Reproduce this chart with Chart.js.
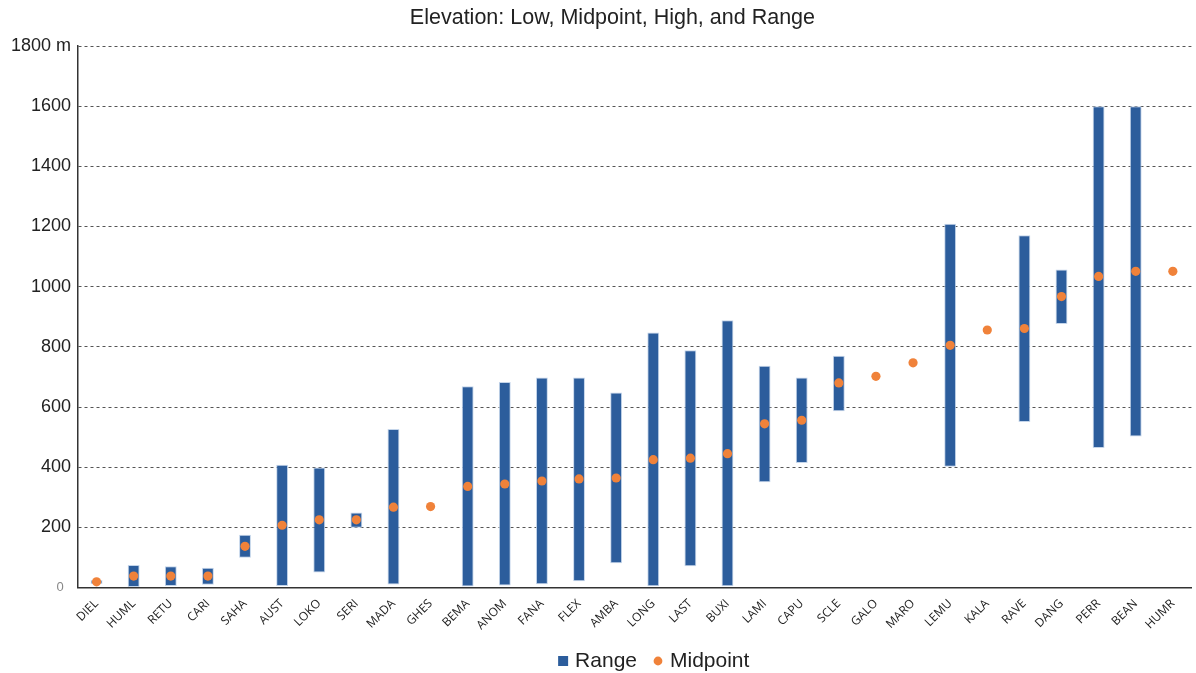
<!DOCTYPE html>
<html>
<head>
<meta charset="utf-8">
<script src="https://cdn.jsdelivr.net/npm/chart.js@4/dist/chart.umd.min.js"></script>
<style>
  html, body { margin: 0; padding: 0; background: #ffffff; }
  #wrap { width: 1196px; height: 673px; }
</style>
</head>
<body>
<div id="wrap"><canvas id="c" width="1196" height="673"></canvas></div>
<script>
const categories = ['DIEL','HUML','RETU','CARI','SAHA','AUST','LOKO','SERI','MADA','GHES','BEMA','ANOM','FANA','FLEX','AMBA','LONG','LAST','BUXI','LAMI','CAPU','SCLE','GALO','MARO','LEMU','KALA','RAVE','DANG','PERR','BEAN','HUMR'];
const lows  = [12, 0, 5, 9, 99, 5, 50, 199, 10, null, 3, 7, 11, 21, 81, 4, 71, 4, 350, 414, 586, null, null, 401, null, 550, 876, 464, 502, null];
const highs = [25, 75, 71, 66, 175, 408, 399, 249, 527, null, 669, 683, 698, 698, 648, 848, 789, 888, 737, 698, 770, null, null, 1209, null, 1171, 1057, 1600, 1600, null];
const mids  = [19, 38, 38, 38, 137, 207, 225, 225, 267, 269, 336, 344, 354, 361, 364, 425, 430, 445, 544, 556, 680, 702, 747, 805, 856, 861, 967, 1034, 1051, 1051];
const yTicks = [0, 200, 400, 600, 800, 1000, 1200, 1400, 1600, 1800];

const BLUE = '#2c5d9c';
const ORANGE = '#f0823a';
const SANS = '"Liberation Sans", Arial, Helvetica, sans-serif';

const rangeData = categories.map((c, i) => (lows[i] === null || highs[i] === null) ? null : [lows[i], highs[i]]);

function makeIcon(kind) {
  const cv = document.createElement('canvas');
  cv.width = 12; cv.height = 12;
  const g = cv.getContext('2d');
  if (kind === 'rect') {
    g.fillStyle = BLUE;
    g.fillRect(1, 1, 10, 10);
  } else {
    g.fillStyle = ORANGE;
    g.beginPath(); g.arc(6, 6, 4.4, 0, Math.PI * 2); g.fill();
  }
  return cv;
}
const icons = [makeIcon('rect'), makeIcon('circle')];

// shift the legend so that it sits where the reference places it
const legendShift = {
  id: 'legendShift',
  afterLayout(chart) {
    if (chart.legend) {
      chart.legend.left += 58;
      chart.legend.right += 58;
    }
  }
};

new Chart(document.getElementById('c'), {
  data: {
    labels: categories,
    datasets: [
      {
        type: 'bar',
        label: 'Range',
        data: rangeData,
        backgroundColor: BLUE,
        borderColor: 'rgba(190,208,232,0.9)',
        borderWidth: 1,
        borderSkipped: false,
        barPercentage: 0.32,
        categoryPercentage: 1.0,
        order: 2
      },
      {
        type: 'line',
        label: 'Midpoint',
        data: mids,
        showLine: false,
        pointRadius: 4.6,
        pointHoverRadius: 4.6,
        pointBackgroundColor: ORANGE,
        pointBorderColor: ORANGE,
        pointBorderWidth: 0,
        borderColor: ORANGE,
        backgroundColor: ORANGE,
        order: 1
      }
    ]
  },
  plugins: [legendShift],
  options: {
    responsive: false,
    animation: false,
    events: [],
    layout: { padding: { left: 0, right: 1, top: 0, bottom: -8.5 } },
    plugins: {
      title: {
        display: true,
        text: '\u00A0\u00A0\u00A0\u00A0\u00A0Elevation: Low, Midpoint, High, and Range',
        color: '#222',
        font: { family: SANS, size: 21.5, weight: 'normal' },
        padding: { top: 5.2, bottom: 15.0 }
      },
      legend: {
        position: 'bottom',
        labels: {
          color: '#222',
          font: { family: SANS, size: 21 },
          usePointStyle: true,
          boxHeight: 3,
          boxWidth: 3,
          pointStyleWidth: 3,
          padding: 19.5,
          sort: (a, b) => a.datasetIndex - b.datasetIndex,
          generateLabels: (chart) => {
            const items = Chart.defaults.plugins.legend.labels.generateLabels(chart);
            items.forEach(it => { it.pointStyle = icons[it.datasetIndex]; });
            return items;
          }
        }
      },
      tooltip: { enabled: false }
    },
    scales: {
      x: {
        type: 'category',
        offset: true,
        grid: { display: false, drawTicks: false },
        border: { display: true, color: '#333', width: 1.5 },
        ticks: {
          color: '#222',
          font: { family: '"Open Sans", sans-serif', size: 12 },
          minRotation: 45,
          maxRotation: 45,
          autoSkip: false,
          padding: 9
        },
        afterFit: (s) => { s.height = 43.5; }
      },
      y: {
        type: 'linear',
        min: 0,
        max: 1800,
        afterBuildTicks: (s) => { s.ticks = yTicks.map(v => ({ value: v })); },
        grid: {
          color: (ctx) => ctx.tick && ctx.tick.value === 0 ? 'rgba(0,0,0,0)' : '#555',
          lineWidth: 1,
          drawTicks: false
        },
        border: { display: true, color: '#333', width: 1.5, dash: [3, 3] },
        ticks: {
          padding: 7,
          color: (ctx) => ctx.tick && ctx.tick.value === 0 ? '#888' : '#222',
          font: (ctx) => ctx.tick && ctx.tick.value === 0 ? { family: SANS, size: 13 } : { family: SANS, size: 18 },
          callback: (v) => v === 1800 ? '1800 m' : (v === 0 ? '0  ' : String(v))
        },
        afterFit: (s) => { s.width = 78; }
      }
    }
  }
});
</script>
</body>
</html>
